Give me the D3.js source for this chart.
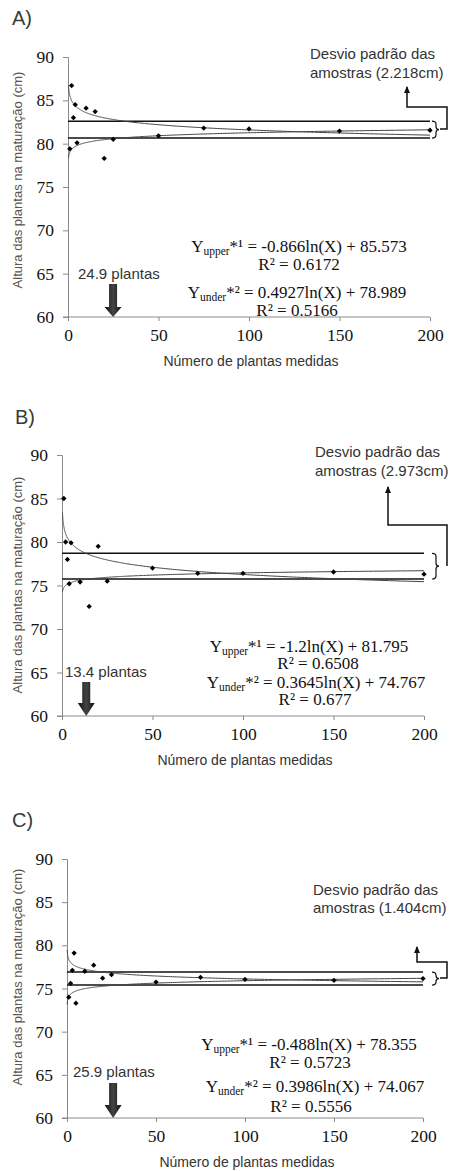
<!DOCTYPE html>
<html>
<head>
<meta charset="utf-8">
<script src="https://cdn.jsdelivr.net/npm/d3@7"></script>
<style>
  body { margin: 0; background: #fff; }
  svg { display: block; }
</style>
</head>
<body>
<svg id="chart" width="454" height="1171"></svg>
<script>
// data
var panelLabels = ["A)", "B)", "C)"];
var plantCounts = [1, 2, 3, 4, 5, 10, 15, 20, 25, 50, 75, 100, 150, 200];
var heightA = [79.4, 86.7, 83.0, 84.5, 80.1, 84.1, 83.7, 78.3, 80.5, 80.9, 81.8, 81.7, 81.45, 81.55];
var heightB = [85.0, 80.0, 78.0, 75.2, 79.9, 75.4, 72.6, 79.5, 75.5, 77.0, 76.4, 76.4, 76.55, 76.3];
var heightC = [74.0, 75.6, 77.1, 79.1, 73.3, 77.0, 77.7, 76.2, 76.6, 75.75, 76.3, 76.05, 75.95, 76.15];
var sdBands = [[80.65, 82.6], [75.75, 78.7], [75.4, 76.9]];     // lower / upper horizontal lines
var fitUpper = [[-0.866, 85.573], [-1.2, 81.795], [-0.488, 78.355]];
var fitUnder = [[0.4927, 78.989], [0.3645, 74.767], [0.3986, 74.067]];
var r2Upper = ["0.6172", "0.6508", "0.5723"];
var r2Under = ["0.5166", "0.677", "0.5556"];
var sdLabels = ["2.218", "2.973", "1.404"];
var optimumPlants = [24.9, 13.4, 25.9];
var yTicks = [60, 65, 70, 75, 80, 85, 90];
var xTicks = [0, 50, 100, 150, 200];
var fitStart = [0.25, 0.25, 0.1];

var SANS = "'Liberation Sans', Arial, sans-serif";
var SERIF = "'Liberation Serif', 'Times New Roman', serif";

// layout of each panel (pixels)
var boxes = [
  { l: 68, r: 430, t: 57, b: 317, lab: [12, 25], yTitle: 180,
    eqX: [299, 299, 297, 297], eqY: [252, 270, 298, 316],
    arrowTop: 284, headTop: 307, plantsText: [78, 279], sdText: [310, 59, 78],
    bracketX: 432, leader: [[440, 129], [447, 129], [447, 107], [407, 107], [407, 87]] },
  { l: 62, r: 424, t: 455, b: 716, lab: [15, 424], yTitle: 585,
    eqX: [309, 318, 316, 315], eqY: [652, 669, 688, 705],
    arrowTop: 682, headTop: 703, plantsText: [65, 677], sdText: [315, 457, 476],
    bracketX: 432, leader: [[447, 566], [447, 525], [388, 525], [388, 487]] },
  { l: 67, r: 423, t: 859, b: 1118, lab: [12, 827], yTitle: 977,
    eqX: [309, 310, 315, 311], eqY: [1050, 1068, 1092, 1112],
    arrowTop: 1083, headTop: 1105, plantsText: [73, 1077], sdText: [313, 895, 913],
    bracketX: 432, leader: [[440, 978], [447, 978], [447, 962], [417, 962], [417, 947]] }
];

var heights = [heightA, heightB, heightC];
var svg = d3.select("#chart");

var grad = svg.append("defs").append("linearGradient")
    .attr("id", "arrowFill").attr("x1", "0").attr("x2", "1").attr("y1", "0").attr("y2", "0");
grad.append("stop").attr("offset", "0%").attr("stop-color", "#111");
grad.append("stop").attr("offset", "50%").attr("stop-color", "#444");
grad.append("stop").attr("offset", "100%").attr("stop-color", "#111");

function drawPanel(i) {
  var bx = boxes[i];
  var x = d3.scaleLinear().domain([0, 200]).range([bx.l, bx.r]);
  var y = d3.scaleLinear().domain([60, 90]).range([bx.b, bx.t]);
  var g = svg.append("g");

  g.append("text").attr("font-family", SANS)
      .attr("x", bx.lab[0]).attr("y", bx.lab[1])
      .attr("font-size", 20).attr("fill", "#3a3a3a")
      .text(panelLabels[i]);

  // axes
  var yAxis = g.append("g").attr("transform", "translate(" + bx.l + ",0)")
      .call(d3.axisLeft(y).tickValues(yTicks).tickSize(5).tickPadding(9));
  var xAxis = g.append("g").attr("transform", "translate(0," + bx.b + ")")
      .call(d3.axisBottom(x).tickValues(xTicks).tickSize(4).tickPadding(8));
  [yAxis, xAxis].forEach(function(a) {
    a.attr("font-family", SERIF).attr("font-size", 17.5);
    a.select(".domain").attr("stroke", "#8a8a8a");
    a.selectAll(".tick line").attr("stroke", "#8a8a8a");
    a.selectAll(".tick text").attr("fill", "#111");
  });
  xAxis.select(".domain").attr("d", "M" + (bx.l - 5) + ",0H" + bx.r);

  g.append("text").attr("font-family", SANS)
      .attr("transform", "translate(22," + bx.yTitle + ") rotate(-90)")
      .attr("text-anchor", "middle").attr("font-size", 13).attr("fill", "#5a5350")
      .text("Altura das plantas na maturação (cm)");
  g.append("text").attr("font-family", SANS)
      .attr("x", (bx.l + bx.r) / 2 + 2).attr("y", bx.b + 49)
      .attr("text-anchor", "middle").attr("font-size", 14).attr("fill", "#333")
      .text("Número de plantas medidas");

  // horizontal lines
  g.selectAll("line.band").data(sdBands[i]).enter().append("line")
      .attr("x1", x(0)).attr("x2", x(200))
      .attr("y1", function(d) { return y(d); }).attr("y2", function(d) { return y(d); })
      .attr("stroke", "#111").attr("stroke-width", 1.5);

  // fitted log curves
  var xs = d3.range(0, 401).map(function(k) { return fitStart[i] * Math.pow(200 / fitStart[i], k / 400); });
  [fitUpper[i], fitUnder[i]].forEach(function(c) {
    g.append("path")
        .datum(xs)
        .attr("fill", "none").attr("stroke", "#444").attr("stroke-width", 1)
        .attr("d", d3.line()
          .x(function(d) { return x(d); })
          .y(function(d) { return y(c[0] * Math.log(d) + c[1]); }));
  });

  // points (square turned 45 degrees)
  g.selectAll("path.pt").data(heights[i]).enter().append("path")
      .attr("d", d3.symbol().type(d3.symbolSquare).size(14))
      .attr("transform", function(d, k) { return "translate(" + x(plantCounts[k]) + "," + y(d) + ") rotate(45)"; })
      .attr("fill", "#000");

  // bracket
  var y1 = y(sdBands[i][1]), y2 = y(sdBands[i][0]), mid = (y1 + y2) / 2, b0 = bx.bracketX;
  g.append("path")
      .attr("d", "M" + b0 + "," + y1 + " Q" + (b0 + 4) + "," + y1 + " " + (b0 + 4) + "," + (y1 + 3) +
        " L" + (b0 + 4) + "," + (mid - 3) + " Q" + (b0 + 4) + "," + mid + " " + (b0 + 7) + "," + mid +
        " Q" + (b0 + 4) + "," + mid + " " + (b0 + 4) + "," + (mid + 3) +
        " L" + (b0 + 4) + "," + (y2 - 3) + " Q" + (b0 + 4) + "," + y2 + " " + b0 + "," + y2)
      .attr("fill", "none").attr("stroke", "#111").attr("stroke-width", 1.2);

  // leader line to label
  g.append("path").attr("d", d3.line()(bx.leader))
      .attr("fill", "none").attr("stroke", "#111").attr("stroke-width", 1.5);
  var tip = bx.leader[bx.leader.length - 1];
  g.append("path")
      .attr("d", "M" + tip[0] + "," + (tip[1] - 1) + " L" + (tip[0] - 3) + "," + (tip[1] + 6) +
        " L" + (tip[0] + 3) + "," + (tip[1] + 6) + "Z")
      .attr("fill", "#111");

  var sd = g.append("text").attr("font-family", SANS).attr("font-size", 15).attr("fill", "#333");
  sd.append("tspan").attr("x", bx.sdText[0]).attr("y", bx.sdText[1]).text("Desvio padrão das");
  sd.append("tspan").attr("x", bx.sdText[0]).attr("y", bx.sdText[2]).text("amostras (" + sdLabels[i] + "cm)");

  // equations
  function eq(k, sub, coef, sup) {
    var t = g.append("text").attr("font-family", SERIF).attr("font-size", 17).attr("fill", "#111")
        .attr("x", bx.eqX[k]).attr("y", bx.eqY[k]).attr("text-anchor", "middle");
    t.append("tspan").text("Y");
    t.append("tspan").attr("font-size", 11.5).attr("dy", 3).text(sub);
    t.append("tspan").attr("dy", -3).text("*" + sup + " = " + coef[0] + "ln(X) + " + coef[1]);
  }
  function r2(k, v) {
    g.append("text").attr("font-family", SERIF).attr("font-size", 17).attr("fill", "#111")
        .attr("x", bx.eqX[k]).attr("y", bx.eqY[k]).attr("text-anchor", "middle")
        .text("R² = " + v);
  }
  eq(0, "upper", fitUpper[i], "¹");
  r2(1, r2Upper[i]);
  eq(2, "under", fitUnder[i], "²");
  r2(3, r2Under[i]);

  // arrow marking the optimum sample size
  var ax = x(optimumPlants[i]);
  g.append("path")
      .attr("d", "M" + (ax - 4) + "," + bx.arrowTop + " H" + (ax + 4) + " V" + bx.headTop +
        " H" + (ax + 8.5) + " L" + ax + "," + bx.b + " L" + (ax - 8.5) + "," + bx.headTop +
        " H" + (ax - 4) + "Z")
      .attr("fill", "url(#arrowFill)");
  g.append("text").attr("font-family", SANS)
      .attr("x", bx.plantsText[0]).attr("y", bx.plantsText[1])
      .attr("font-size", 15).attr("fill", "#333")
      .text(optimumPlants[i] + " plantas");
}

for (var i = 0; i < 3; i++) drawPanel(i);
</script>
</body>
</html>
